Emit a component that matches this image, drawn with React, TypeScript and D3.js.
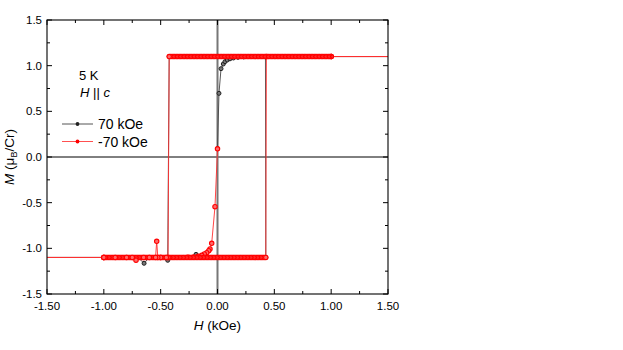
import React from 'react';
import * as d3 from 'd3';

// field grid of the flat (saturated) parts of the sweep, kOe
const plateauH = [
  1.0, 0.9875, 0.975, 0.9625, 0.95, 0.9375, 0.925, 0.9125, 0.9, 0.8875, 0.875, 0.8625,
  0.85, 0.8375, 0.825, 0.8125, 0.8, 0.7875, 0.775, 0.7625, 0.75, 0.7375, 0.725, 0.7125,
  0.7, 0.6875, 0.675, 0.6625, 0.65, 0.6375, 0.625, 0.6125, 0.6, 0.5875, 0.575, 0.5625,
  0.55, 0.5375, 0.525, 0.5125, 0.5, 0.4875, 0.475, 0.4625, 0.45, 0.4375, 0.425, 0.4125,
  0.4, 0.3875, 0.375, 0.3625, 0.35, 0.3375, 0.325, 0.3125, 0.3, 0.2875, 0.275, 0.2625,
  0.25, 0.2375, 0.225, 0.2125, 0.2, 0.1875, 0.175, 0.1625, 0.15, 0.1375, 0.125, 0.1125,
  0.1, 0.0875, 0.075, 0.0625, 0.05, 0.0375, 0.025, 0.0125, 0.0, -0.0125, -0.025, -0.0375,
  -0.05, -0.0625, -0.075, -0.0875, -0.1, -0.1125, -0.125, -0.1375, -0.15, -0.1625, -0.175, -0.1875,
  -0.2, -0.2125, -0.225, -0.2375, -0.25, -0.2625, -0.275, -0.2875, -0.3, -0.3125, -0.325, -0.3375,
  -0.35, -0.3625, -0.375, -0.3875, -0.4, -0.4125, -0.425,
];
const satM = 1.1;
const coolField = 70; // kOe, off the plotted range

// -70 kOe series
const redInitH = [0, -0.022, -0.051, -0.066, -0.077, -0.095, -0.116, -0.139, -0.17, -0.21, -0.26, -0.5, -1.0];
const redInitM = [0.09, -0.544, -0.945, -1.007, -1.026, -1.048, -1.062, -1.077, -1.087, -1.094, -1.098, -1.1, -1.1];
const redDropH = [-0.435, -0.45, -0.5, -0.525, -0.535, -0.545, -0.6, -0.65, -0.717, -0.75, -0.8, -0.9, -1.0];
const redDropM = [-1.1, -1.1, -1.1, -1.1, -0.923, -1.1, -1.1, -1.1, -1.13, -1.1, -1.1, -1.1, -1.1];

// 70 kOe series
const blackInitH = [0, 0.013, 0.031, 0.051, 0.066, 0.086, 0.11, 0.14, 0.18, 0.23, 0.5, 1.0];
const blackInitM = [0.09, 0.697, 0.967, 1.018, 1.044, 1.062, 1.075, 1.084, 1.091, 1.096, 1.1, 1.1];
const blackDropH = [-0.438, -0.5, -0.55, -0.6, -0.646, -0.7, -0.8, -0.9, -1.0];
const blackDropM = [-1.131, -1.1, -1.1, -1.1, -1.164, -1.1, -1.1, -1.1, -1.1];
const blackUpH = [-1.0, -0.8, -0.6, -0.4, -0.3, -0.25, -0.189, -0.15, -0.095, -0.05, 0, 0.1, 0.2, 0.3, 0.425];
const blackUpM = [-1.1, -1.1, -1.1, -1.1, -1.1, -1.1, -1.066, -1.1, -1.099, -1.1, -1.1, -1.1, -1.1, -1.1, -1.1];

const xMajor = [-1.5, -1.0, -0.5, 0, 0.5, 1.0, 1.5];
const xMinor = [-1.25, -0.75, -0.25, 0.25, 0.75, 1.25];
const yMajor = [-1.5, -1.0, -0.5, 0, 0.5, 1.0, 1.5];
const yMinor = [-1.25, -0.75, -0.25, 0.25, 0.75, 1.25];

const legendItems = [
  { label: '70 kOe', line: '#555', dot: '#222' },
  { label: '-70 kOe', line: '#ff5050', dot: '#ff0000' },
];

type P = [number, number];
const zip = (h: number[], m: number[]): P[] => h.map((v, i) => [v, m[i]]);

const redPts: P[] = [
  ...zip(redInitH, redInitM),
  [-coolField, -satM], [-1.0, -satM],
  ...plateauH.map((h) => [-h, -satM] as P),
  [0.43, satM], [1.0, satM], [coolField, satM], [1.0, satM],
  ...plateauH.map((h) => [h, satM] as P),
  ...zip(redDropH, redDropM),
];

const blackPts: P[] = [
  ...zip(blackInitH, blackInitM),
  [coolField, satM], [1.0, satM],
  ...plateauH.map((h) => [h, satM] as P),
  ...zip(blackDropH, blackDropM),
  [-coolField, -satM],
  ...zip(blackUpH, blackUpM),
  [0.422, satM], [1.0, satM],
];

const W = 623;
const H = 350;
const L = 47, R = 388, T = 20, B = 294;
const font = 'Liberation Sans, Arial, sans-serif';

export default function App() {
  const x = d3.scaleLinear().domain([-1.5, 1.5]).range([L, R]);
  const y = d3.scaleLinear().domain([-1.5, 1.5]).range([B, T]);
  const line = d3.line<P>().x((d) => x(d[0])).y((d) => y(d[1]));
  const inside = (d: P) => d[0] >= -1.5 && d[0] <= 1.5;

  return (
    <svg width={W} height={H} style={{ position: 'absolute', left: 0, top: 0, background: '#fff' }} fontFamily={font}>
      <defs>
        <clipPath id="plot">
          <rect x={L} y={T} width={R - L} height={B - T} />
        </clipPath>
      </defs>

      {/* zero lines */}
      <line x1={L} x2={R} y1={y(0)} y2={y(0)} stroke="#000" strokeWidth={1} />
      <line x1={x(0)} x2={x(0)} y1={T} y2={B} stroke="#777" strokeWidth={2} />

      <g clipPath="url(#plot)">
        <path d={line(blackPts) || ''} fill="none" stroke="#444" strokeWidth={0.9} />
        {blackPts.filter(inside).map((d, i) => (
          <circle key={'b' + i} cx={x(d[0])} cy={y(d[1])} r={2} fill="#777" stroke="#222" strokeWidth={1} />
        ))}
        <path d={line(redPts) || ''} fill="none" stroke="#ff3030" strokeWidth={0.9} />
        {redPts.filter(inside).map((d, i) => (
          <circle key={'r' + i} cx={x(d[0])} cy={y(d[1])} r={2.2} fill="#ff6a6a" stroke="#ff0000" strokeWidth={1.1} />
        ))}
      </g>

      {/* frame */}
      <rect x={L} y={T} width={R - L} height={B - T} fill="none" stroke="#000" strokeWidth={1.1} />

      {/* ticks on all sides, pointing inward */}
      {xMajor.concat(xMinor).map((v, i) => {
        const len = xMajor.includes(v) ? 5 : 3;
        return (
          <g key={'xt' + i} stroke="#000" strokeWidth={1}>
            <line x1={x(v)} x2={x(v)} y1={B} y2={B - len} />
            <line x1={x(v)} x2={x(v)} y1={T} y2={T + len} />
          </g>
        );
      })}
      {yMajor.concat(yMinor).map((v, i) => {
        const len = yMajor.includes(v) ? 5 : 3;
        return (
          <g key={'yt' + i} stroke="#000" strokeWidth={1}>
            <line x1={L} x2={L + len} y1={y(v)} y2={y(v)} />
            <line x1={R} x2={R - len} y1={y(v)} y2={y(v)} />
          </g>
        );
      })}

      {xMajor.map((v) => (
        <text key={'xl' + v} x={x(v)} y={309.5} fontSize={11.5} textAnchor="middle" fill="#000">
          {v.toFixed(2)}
        </text>
      ))}
      {yMajor.map((v) => (
        <text key={'yl' + v} x={42} y={y(v) + 4} fontSize={11.5} textAnchor="end" fill="#000">
          {v.toFixed(1)}
        </text>
      ))}

      <text x={x(0)} y={330} fontSize={13.5} textAnchor="middle" fill="#000">
        <tspan fontStyle="italic">H</tspan> (kOe)
      </text>
      <text transform={`translate(14,${y(0)}) rotate(-90)`} fontSize={13.5} textAnchor="middle" fill="#000">
        <tspan fontStyle="italic">M</tspan> (μ<tspan fontSize={9} dy={3}>B</tspan><tspan dy={-3}>/Cr)</tspan>
      </text>

      <text x={79} y={79.5} fontSize={13} fill="#000">5 K</text>
      <text x={80} y={97} fontSize={13} fill="#000">
        <tspan fontStyle="italic">H</tspan> || <tspan fontStyle="italic">c</tspan>
      </text>

      {legendItems.map((it, i) => {
        const ly = 124 + i * 17.5;
        return (
          <g key={it.label}>
            <line x1={62} x2={93} y1={ly} y2={ly} stroke={it.line} strokeWidth={1} />
            <circle cx={77.5} cy={ly} r={1.9} fill={it.dot} />
            <text x={98} y={ly + 5} fontSize={14} fill="#000">{it.label}</text>
          </g>
        );
      })}
    </svg>
  );
}
